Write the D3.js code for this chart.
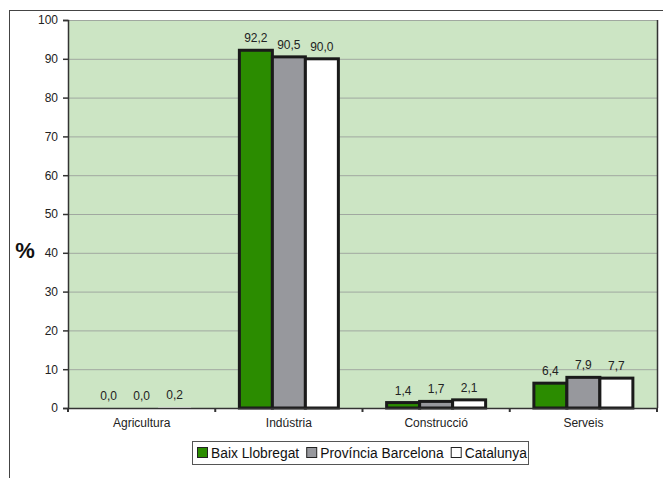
<!DOCTYPE html>
<html><head><meta charset="utf-8">
<script src="https://cdn.jsdelivr.net/npm/d3@7"></script>
<style>body{margin:0;background:#fff}svg{display:block}svg text{font-family:"Liberation Sans",Arial,sans-serif}</style>
</head><body>
<script>
const categories = ["Agricultura","Indústria","Construcció","Serveis"];
const seriesNames = ["Baix Llobregat","Província Barcelona","Catalunya"];
const baixLlobregat = [0.0, 92.2, 1.4, 6.4];
const provinciaBarcelona = [0.0, 90.5, 1.7, 7.9];
const catalunya = [0.2, 90.0, 2.1, 7.7];
const yTicks = [0,10,20,30,40,50,60,70,80,90,100];
const colors = ["#2b8c00","#97989d","#ffffff"];

const series = [baixLlobregat, provinciaBarcelona, catalunya];
const W = 663, H = 478;
const FF = "'Liberation Sans', Arial, sans-serif";
const svg = d3.select("body").append("svg").attr("width", W).attr("height", H);
const m = {left: 68, right: 657, top: 20, bottom: 408};

svg.append("rect").attr("x", 9.5).attr("y", 10.5).attr("width", 700).attr("height", 500)
  .attr("fill", "none").attr("stroke", "#444").attr("stroke-width", 1);

const x0 = d3.scaleBand().domain(categories).range([m.left, m.right]);
const x1 = d3.scaleBand().domain(seriesNames).range([0, 99]);
const y = d3.scaleLinear().domain([0, 100]).range([m.bottom, m.top]);

svg.append("rect").attr("x", m.left).attr("y", m.top).attr("width", m.right - m.left)
  .attr("height", m.bottom - m.top).attr("fill", "#cce5c4");

svg.append("g").selectAll("line").data(yTicks.filter(d => d > 0)).join("line")
  .attr("x1", m.left).attr("x2", m.right).attr("y1", d => y(d) + 0.5).attr("y2", d => y(d) + 0.5)
  .attr("stroke", "#a0a8a0").attr("stroke-width", 1);
svg.append("line").attr("x1", m.right + 0.5).attr("x2", m.right + 0.5).attr("y1", m.top).attr("y2", m.bottom)
  .attr("stroke", "#333").attr("stroke-width", 1.5);

const groups = svg.append("g").selectAll("g").data(categories).join("g")
  .attr("transform", d => `translate(${x0(d) + (x0.bandwidth() - 99) / 2},0)`);
groups.selectAll("rect").data((c, i) => series.map((s, j) => ({v: s[i], j}))).join("rect")
  .attr("x", d => x1(seriesNames[d.j]))
  .attr("y", d => y(d.v))
  .attr("width", x1.bandwidth())
  .attr("height", d => y(0) - y(d.v))
  .attr("fill", d => colors[d.j])
  .attr("stroke", d => d.v > 0.5 ? "#1a1a1a" : "none")
  .attr("stroke-width", 3);
groups.selectAll("text").data((c, i) => series.map((s, j) => ({v: s[i], j}))).join("text")
  .attr("x", d => x1(seriesNames[d.j]) + x1.bandwidth() / 2)
  .attr("y", d => y(d.v) - 8)
  .attr("text-anchor", "middle").attr("font-size", 12).attr("fill", "#222").attr("font-family", FF)
  .text(d => d.v.toFixed(1).replace(".", ","));

const ya = svg.append("g").attr("transform", `translate(${m.left},0)`)
  .call(d3.axisLeft(y).tickValues(yTicks).tickSize(5).tickPadding(5));
ya.attr("font-family", FF);
ya.select(".domain").attr("stroke", "#333").attr("stroke-width", 1.5);
ya.selectAll(".tick line").attr("stroke", "#333").attr("stroke-width", 1.5);
ya.selectAll("text").attr("font-size", 12).attr("fill", "#222");

const xa = svg.append("g").attr("transform", `translate(0,${m.bottom})`)
  .call(d3.axisBottom(x0).tickSize(0).tickPadding(10));
xa.attr("font-family", FF);
xa.select(".domain").attr("stroke", "#333").attr("stroke-width", 1.5);
xa.selectAll("text").attr("font-size", 12).attr("fill", "#222");
const bounds = categories.map(c => x0(c)).concat([m.right]);
svg.append("g").selectAll("line").data(bounds).join("line")
  .attr("x1", d => d).attr("x2", d => d).attr("y1", m.bottom).attr("y2", m.bottom + 4)
  .attr("stroke", "#333").attr("stroke-width", 2);

svg.append("text").attr("x", 25).attr("y", 258).attr("text-anchor", "middle").attr("font-family", FF)
  .attr("font-size", 22).attr("font-weight", "bold").attr("fill", "#111").text("%");

const lg = svg.append("g").attr("font-family", FF);
lg.append("rect").attr("x", 192.5).attr("y", 441.5).attr("width", 336).attr("height", 23)
  .attr("fill", "#fff").attr("stroke", "#555");
let lx = 197;
seriesNames.forEach((n, i) => {
  lg.append("rect").attr("x", lx + 0.5).attr("y", 447.5).attr("width", 10).attr("height", 10)
    .attr("fill", colors[i]).attr("stroke", "#222");
  const t = lg.append("text").attr("x", lx + 14).attr("y", 457.5).attr("font-size", 13.8).attr("fill", "#111").text(n);
  lx += 14 + t.node().getComputedTextLength() + 7;
});
</script>
</body></html>
